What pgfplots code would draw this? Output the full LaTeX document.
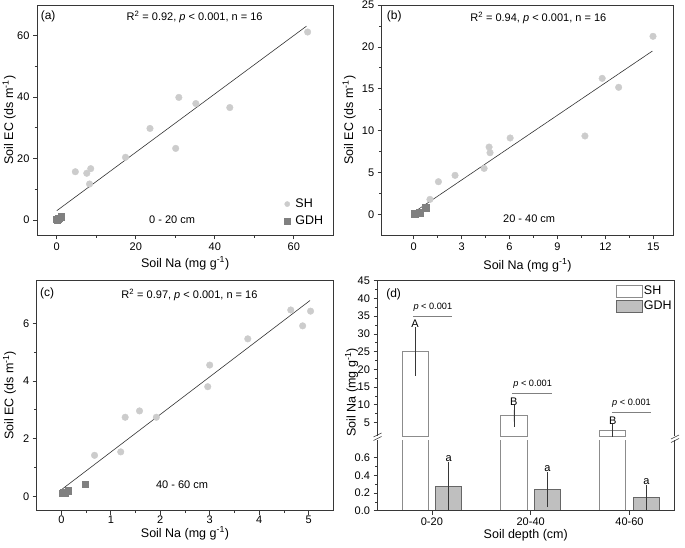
\documentclass[border=0pt]{standalone}
\usepackage{fontspec}
\setmainfont{Liberation Sans}
\usepackage{pgfplots}
\pgfplotsset{compat=1.18}
\definecolor{shc}{RGB}{204,204,204}
\definecolor{gdhc}{RGB}{128,128,128}
\definecolor{framec}{RGB}{55,55,55}
\newcommand{\fs}[1]{\fontsize{#1}{#1}\selectfont}
\pgfplotsset{
  base/.style={
    scale only axis,
    axis line style={framec, line width=0.8pt},
    tick style={framec, line width=0.7pt},
    major tick length=4pt, minor tick length=2.5pt,
    tick align=outside, tick pos=left,
    minor tick num=1,
    /pgf/number format/assume math mode=true,
    tick label style={font=\fs{11}},
    label style={font=\fs{12.5}},
  },
  xlab/.style={xlabel style={at={([yshift=-#1]rel axis cs:0.5,0)}, anchor=center}},
  ylab/.style={ylabel style={at={([xshift=-#1]rel axis cs:0,0.5)}, anchor=center}},
  scat/.style={base,
    xlabel={Soil Na (mg g\textsuperscript{-1})},
    ylabel={Soil EC (ds m\textsuperscript{-1})},
    legend cell align=left,
  },
  sh/.style={only marks, mark=*, mark size=3.3pt, mark options={fill=shc, draw=shc}},
  gdh/.style={only marks, mark=square*, mark size=3.2pt, mark options={fill=gdhc, draw=gdhc}},
  fit/.style={no marks, black!80, line width=0.6pt, forget plot},
  boxlegend/.style={legend image code/.code={\draw[##1] (0pt,-5.8pt) rectangle (26pt,5.8pt);}},
  markleg/.style={legend image code/.code={\draw[##1, mark size=2.6pt] plot coordinates {(6pt,0pt)}; \path (0pt,0pt) (13pt,0pt);}},
}
\begin{document}
\begin{tikzpicture}
\path[use as bounding box] (0pt,0pt) rectangle (685pt,-548pt);
% ---------------- (a)
\begin{axis}[scat, at={(37pt,-5pt)}, anchor=north west, width=296.3pt, height=230.3pt,
  xlab=28pt, ylab=27.8pt,
  xmin=-5, xmax=70, ymin=-5, ymax=70, xtick={0,20,40,60}, ytick={0,20,40,60},
  legend style={at={(rel axis cs:0.823,0.163)}, anchor=north west, draw=none, fill=none,
    font=\fs{12.5}, inner sep=0pt, row sep=5pt, nodes={inner sep=1pt}}]
\addplot[sh, markleg] coordinates {(4.7,15.7) (7.6,15.2) (8.6,16.7) (8.3,11.7) (17.4,20.4) (23.6,29.8)
  (30.1,23.3) (30.9,39.9) (35.2,37.9) (43.8,36.6) (63.5,61.2)};
\addlegendentry{SH}
\addplot[gdh, markleg] coordinates {(0.0,0.2) (0.3,0.4) (0.1,0.1) (0.5,0.5) (1.2,1.1)};
\addlegendentry{GDH}
\addplot[fit] coordinates {(0,3.0) (63.2,63.1)};
\node[font=\fs{11}] at (axis cs:34.9,66.2) {R\textsuperscript{2} = 0.92, \textit{p} < 0.001, n = 16};
\node[font=\fs{11}] at (axis cs:29.2,0.2) {0 - 20 cm};
\node[font=\fs{12}, anchor=west, inner sep=0pt] at (rel axis cs:0.012,0.949) {(a)};
\end{axis}
% ---------------- (b)
\begin{axis}[scat, at={(381.7pt,-5pt)}, anchor=north west, width=291.6pt, height=230.3pt,
  xlab=30pt, ylab=32.5pt,
  xmin=-2, xmax=16.25, ymin=-2.5, ymax=25, xtick={0,3,6,9,12,15}, ytick={0,5,10,15,20,25}]
\addplot[sh] coordinates {(1.02,1.79) (1.55,3.9) (2.59,4.66) (4.41,5.49) (4.72,8.04) (4.78,7.36)
  (6.04,9.12) (10.72,9.36) (11.8,16.24) (12.83,15.17) (14.98,21.26)};
\addplot[gdh] coordinates {(0.05,0.08) (0.17,0.12) (0.1,0.1) (0.38,0.22) (0.75,0.8)};
\addplot[fit] coordinates {(0.13,0.4) (14.94,19.5)};
\node[font=\fs{11}] at (axis cs:7.8,23.5) {R\textsuperscript{2} = 0.94, \textit{p} < 0.001, n = 16};
\node[font=\fs{11}] at (axis cs:7.23,-0.56) {20 - 40 cm};
\node[font=\fs{12}, anchor=west, inner sep=0pt] at (rel axis cs:0.017,0.952) {(b)};
\end{axis}
% ---------------- (c)
\begin{axis}[scat, at={(36.7pt,-280pt)}, anchor=north west, width=296.6pt, height=230.7pt,
  xlab=22.5pt, ylab=27.2pt, xticklabel style={yshift=2pt},
  xmin=-0.5, xmax=5.5, ymin=-0.5, ymax=7.5, xtick={0,1,2,3,4,5}, ytick={0,2,4,6}]
\addplot[sh] coordinates {(0.67,1.42) (1.2,1.54) (1.29,2.74) (1.58,2.96) (1.92,2.74) (2.96,3.8)
  (3.0,4.55) (3.77,5.46) (4.64,6.46) (4.88,5.91) (5.04,6.42)};
\addplot[gdh] coordinates {(0.02,0.1) (0.05,0.14) (0.08,0.12) (0.14,0.2) (0.48,0.42)};
\addplot[fit] coordinates {(0.02,0.255) (5.03,6.79)};
\node[font=\fs{11}] at (axis cs:2.59,6.99) {R\textsuperscript{2} = 0.97, \textit{p} < 0.001, n = 16};
\node[font=\fs{11}] at (axis cs:2.44,0.41) {40 - 60 cm};
\node[font=\fs{12}, anchor=west, inner sep=0pt] at (rel axis cs:0.011,0.942) {(c)};
\end{axis}
% ---------------- (d) upper
\begin{axis}[base, name=dup, at={(377.5pt,-280.7pt)}, anchor=north west, width=296.5pt, height=155.3pt,
  axis line style={draw=none},
  xmin=-0.55, xmax=2.45, ymin=1.2, ymax=45, xtick=\empty, ytick={5,10,...,45},
  ylabel={Soil Na (mg g\textsuperscript{-1})},
  ylabel style={at={([xshift=-25.8pt]rel axis cs:0,0.28)}, anchor=center},
  legend style={at={(rel axis cs:0.805,0.975)}, anchor=north west, draw=none, fill=none,
    font=\fs{12.5}, inner sep=0pt, row sep=2.5pt, nodes={inner sep=1.2pt}},
  legend cell align=left]
\addlegendimage{boxlegend, fill=white, draw=black!45}
\addlegendentry{SH}
\addlegendimage{boxlegend, fill=black!25, draw=black!60}
\addlegendentry{GDH}
\addplot[ybar, bar width=0.265, bar shift=0pt, fill=white, draw=black!45, line width=0.7pt, forget plot,
  error bars/.cd, y dir=both, y explicit, error bar style={framec, line width=0.6pt},
  error mark options={framec, mark size=5pt, line width=0.6pt}]
  coordinates {(-0.17,25.0) +- (0,5.45) (0.83,6.9) +- (0,1.65) (1.83,2.8) +- (0,0.45)};
\draw[black!50, line width=0.6pt] (axis cs:-0.186,35) -- (axis cs:0.207,35);
\draw[black!50, line width=0.6pt] (axis cs:0.812,13.2) -- (axis cs:1.212,13.2);
\draw[black!50, line width=0.6pt] (axis cs:1.821,7.9) -- (axis cs:2.22,7.9);
\node[font=\fs{9.2}, above=1.5pt] at (axis cs:0.01,35) {\textit{p} < 0.001};
\node[font=\fs{9.2}, above=1.5pt] at (axis cs:1.02,13.2) {\textit{p} < 0.001};
\node[font=\fs{9.2}, above=1.5pt] at (axis cs:2.02,7.9) {\textit{p} < 0.001};
\node[font=\fs{11}] at (axis cs:-0.17,32.9) {A};
\node[font=\fs{11}] at (axis cs:0.83,10.8) {B};
\node[font=\fs{11}] at (axis cs:1.83,5.6) {B};
\node[font=\fs{12}, anchor=west, inner sep=0pt] at (rel axis cs:0.029,0.914) {(d)};
\end{axis}
\draw[framec, line width=0.8pt] (dup.south west) -- (dup.north west) -- (dup.north east) -- (dup.south east);
% ---------------- (d) lower
\begin{axis}[base, name=dlo, at={(377.5pt,-440pt)}, anchor=north west, width=296.5pt, height=70.7pt,
  axis line style={draw=none}, xlab=25pt,
  xmin=-0.55, xmax=2.45, ymin=0, ymax=0.8, ytick={0,0.2,0.4,0.6},
  yticklabel style={/pgf/number format/.cd, fixed, fixed zerofill, precision=1},
  xtick={0,1,2}, xticklabels={0-20,20-40,40-60}, minor x tick num=0,
  xlabel={Soil depth (cm)}]
\addplot[ybar, bar width=0.265, bar shift=0pt, fill=white, draw=black!45, line width=0.7pt]
  coordinates {(-0.17,25.0) (0.83,6.9) (1.83,2.8)};
\addplot[ybar, bar width=0.265, bar shift=0pt, fill=black!25, draw=black!60, line width=0.7pt,
  error bars/.cd, y dir=both, y explicit, error bar style={framec, line width=0.6pt},
  error mark options={framec, mark size=5pt, line width=0.6pt}]
  coordinates {(0.17,0.27) +- (0,0.225) (1.17,0.237) +- (0,0.141) (2.17,0.146) +- (0,0.084)};
\node[font=\fs{11}] at (axis cs:0.17,0.59) {a};
\node[font=\fs{11}] at (axis cs:1.17,0.474) {a};
\node[font=\fs{11}] at (axis cs:2.17,0.325) {a};
\end{axis}
\draw[framec, line width=0.8pt] (dlo.north west) -- (dlo.south west) -- (dlo.south east) -- (dlo.north east);
% break marks
\draw[framec, line width=0.6pt] (373.5pt,-437pt) -- (381.5pt,-433pt);
\draw[framec, line width=0.6pt] (373.5pt,-440.5pt) -- (381.5pt,-436.5pt);
\draw[framec, line width=0.6pt] (671pt,-439pt) -- (679pt,-435pt);
\draw[framec, line width=0.6pt] (671pt,-442.5pt) -- (679pt,-438.5pt);
\end{tikzpicture}
\end{document}
